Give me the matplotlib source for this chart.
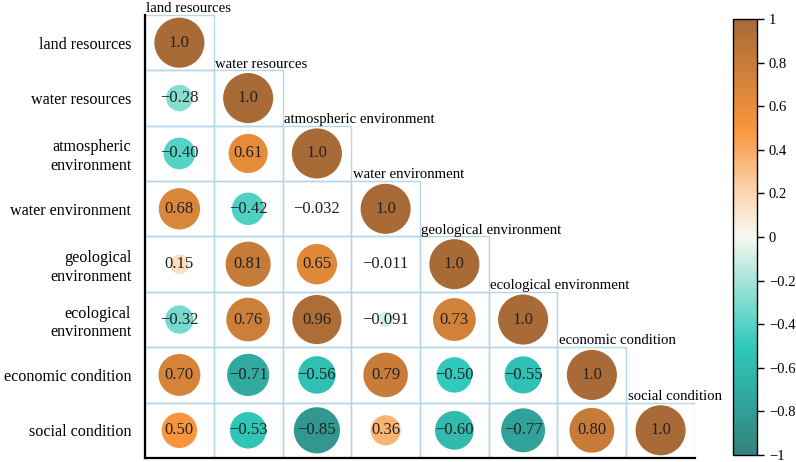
import matplotlib
matplotlib.use("Agg")
import matplotlib.pyplot as plt
import numpy as np
from matplotlib.colors import LinearSegmentedColormap
from matplotlib.patches import Rectangle

# factor names (rows / columns of the triangle)
factors = ["land resources", "water resources", "atmospheric environment",
           "water environment", "geological environment", "ecological environment",
           "economic condition", "social condition"]
row_labels = ["land resources", "water resources", "atmospheric\nenvironment",
              "water environment", "geological\nenvironment", "ecological\nenvironment",
              "economic condition", "social condition"]

# lower triangle of the correlation matrix, row by row
r_land = [1.0]
r_water = [-0.28, 1.0]
r_atmo = [-0.40, 0.61, 1.0]
r_waterenv = [0.68, -0.42, -0.032, 1.0]
r_geo = [0.15, 0.81, 0.65, -0.011, 1.0]
r_eco = [-0.32, 0.76, 0.96, -0.091, 0.73, 1.0]
r_econ = [0.70, -0.71, -0.56, 0.79, -0.50, -0.55, 1.0]
r_social = [0.50, -0.53, -0.85, 0.36, -0.60, -0.77, 0.80, 1.0]
corr_rows = [r_land, r_water, r_atmo, r_waterenv, r_geo, r_eco, r_econ, r_social]

cmap = LinearSegmentedColormap.from_list("tealbrown", [
    (0.0, "#33827c"),
    (0.25, "#2fc9bb"),
    (0.4, "#a6e4da"),
    (0.5, "#f8f8f0"),
    (0.6, "#fdd6b2"),
    (0.75, "#f7963c"),
    (1.0, "#a86a36"),
])

serif = "Liberation Serif"
n = len(factors)


def fmt(v, spec):
    return (spec % v).replace("-", "\u2212")


fig = plt.figure(figsize=(7.96, 4.62), dpi=100)
ax = fig.add_axes([0.1822, 0.0087, 0.6909, 0.9588])
cax = fig.add_axes([0.9209, 0.0152, 0.0302, 0.9437])

ax.set_xlim(0, n)
ax.set_ylim(n, 0)

xs, ys, vals = [], [], []
for i, row in enumerate(corr_rows):
    for j, v in enumerate(row):
        ax.add_patch(Rectangle((j, i), 1, 1, fill=False, edgecolor="#b4d6ea",
                               linewidth=1.0, zorder=1))
        xs.append(j + 0.5)
        ys.append(i + 0.5)
        vals.append(v)
        ax.text(j + 0.5, i + 0.5, fmt(v, "%#.2g"), ha="center", va="center",
                fontsize=12, family=serif, color="#222222", zorder=3)
    # diagonal label above the diagonal cell
    ax.text(i + 0.02, i - 0.05, factors[i], ha="left", va="baseline",
            fontsize=10.6, family=serif, zorder=3)

vals = np.array(vals)
sc = ax.scatter(xs, ys, s=1300 * np.abs(vals), c=vals, cmap=cmap, vmin=-1, vmax=1,
                linewidths=0, zorder=2)

ax.set_xticks([])
ax.set_yticks(np.arange(n) + 0.5)
ax.set_yticklabels(row_labels, family=serif, fontsize=11.6)
ax.tick_params(axis="y", length=0, pad=10)
for side in ["top", "right"]:
    ax.spines[side].set_visible(False)
for side in ["left", "bottom"]:
    ax.spines[side].set_linewidth(1.6)
    ax.spines[side].set_color("black")

cb = fig.colorbar(sc, cax=cax)
ticks = np.round(np.linspace(-1, 1, 11), 1)
cb.set_ticks(ticks)
cb.set_ticklabels([fmt(t, "%g") if abs(t) > 1e-9 else "0" for t in ticks])
cb.outline.set_linewidth(1.0)
cax.tick_params(length=5, width=1, labelsize=10.5)
for lab in cax.get_yticklabels():
    lab.set_family(serif)

fig.savefig("out.png", dpi=100)
